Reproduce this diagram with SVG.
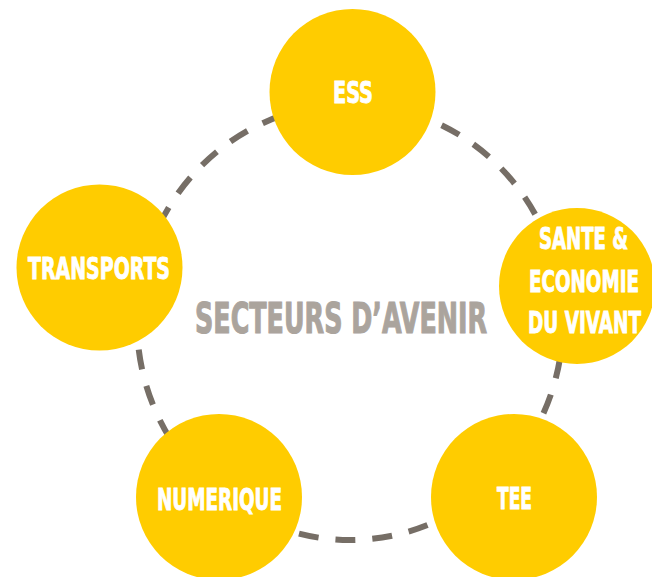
<svg xmlns="http://www.w3.org/2000/svg" width="652" height="577" viewBox="0 0 652 577">
<style>
.ring{fill:none;stroke:#766E66;stroke-width:6;stroke-dasharray:20 17}
.node circle{fill:#FFCC00}
.lbl{font-family:"Liberation Sans Narrow","DejaVu Sans Condensed","Liberation Sans",sans-serif;font-weight:bold;font-size:31px;fill:#FFFFFF;stroke:#FFFFFF;stroke-width:0.9;text-anchor:middle}
.title{font-family:"Liberation Sans Narrow","DejaVu Sans Condensed","Liberation Sans",sans-serif;font-weight:bold;font-size:42px;fill:#ABA49D;stroke:#ABA49D;stroke-width:1.1;text-anchor:middle}
</style>
<rect width="652" height="577" fill="#FFFFFF"/>
<g id="connectors">
<ellipse class="ring" cx="350" cy="322" rx="213" ry="218"/>
</g>
<g id="title">
<text class="title" x="341" y="333" textLength="292" lengthAdjust="spacingAndGlyphs">SECTEURS  D’AVENIR</text>
</g>
<g id="node-ess" class="node">
<circle cx="352.5" cy="92" r="83"/>
<text class="lbl" x="353" y="103" textLength="40" lengthAdjust="spacingAndGlyphs">ESS</text>
</g>
<g id="node-transports" class="node">
<circle cx="99.5" cy="267.5" r="83"/>
<text class="lbl" x="99" y="279" textLength="142" lengthAdjust="spacingAndGlyphs">TRANSPORTS</text>
</g>
<g id="node-sante" class="node">
<circle cx="577" cy="286" r="78"/>
<text class="lbl" x="583.5" y="249" textLength="89" lengthAdjust="spacingAndGlyphs">SANTE &amp;</text>
<text class="lbl" x="584" y="292" textLength="110" lengthAdjust="spacingAndGlyphs">ECONOMIE</text>
<text class="lbl" x="584.5" y="333" textLength="113" lengthAdjust="spacingAndGlyphs">DU VIVANT</text>
</g>
<g id="node-tee" class="node">
<circle cx="514" cy="497" r="83"/>
<text class="lbl" x="514.5" y="509" textLength="35" lengthAdjust="spacingAndGlyphs">TEE</text>
</g>
<g id="node-numerique" class="node">
<circle cx="219" cy="497" r="83"/>
<text class="lbl" x="219.5" y="510" textLength="125" lengthAdjust="spacingAndGlyphs">NUMERIQUE</text>
</g>
</svg>
